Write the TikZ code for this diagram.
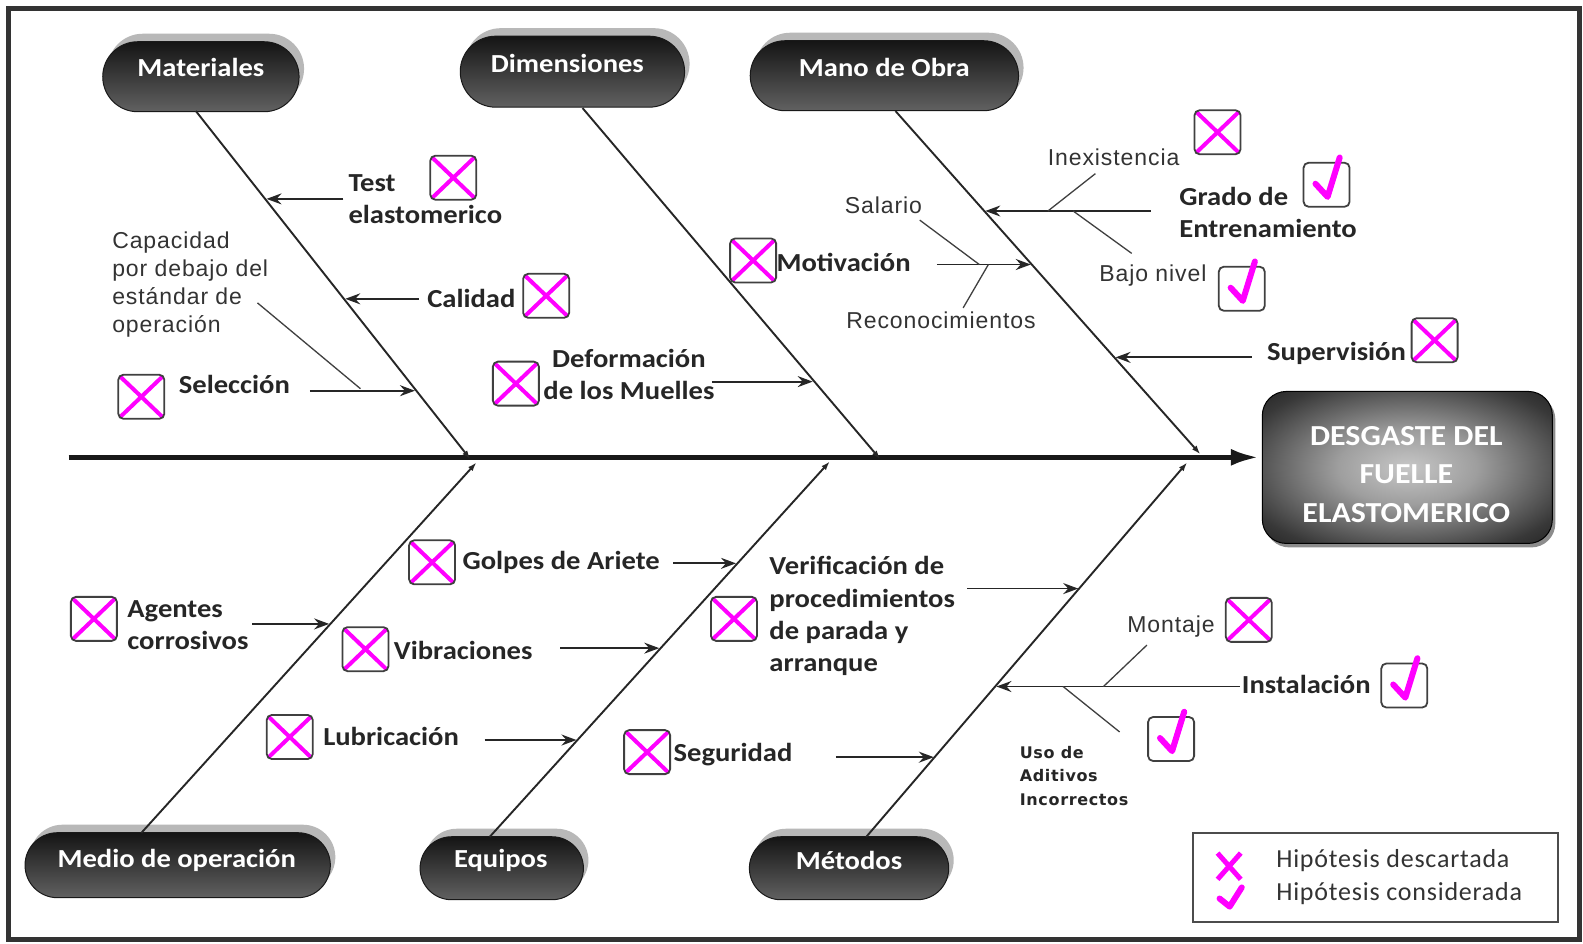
\documentclass[tikz,border=0pt]{standalone}
\usepackage{fontspec}
\setmainfont{Carlito}
\newfontfamily\lblfont[FakeStretch=1.1]{Carlito}
\newfontfamily\regfont[LetterSpace=4]{Liberation Sans}
\newfontfamily\smallbold[LetterSpace=4]{DejaVu Sans}
\newfontfamily\legfont[LetterSpace=3]{Carlito}
\usetikzlibrary{arrows.meta,shadows,shapes.misc}
\definecolor{mag}{HTML}{FF00FF}
\pgfdeclareradialshading{effshade}{\pgfpoint{0bp}{0bp}}{%
  color(0bp)=(black!22); color(12bp)=(black!38); color(30bp)=(black!78);
  color(44bp)=(black!96); color(50bp)=(black)}
\tikzset{
  spine/.style={line width=5pt, black!90, -{Latex[length=28pt,width=17pt]}, shorten >=3pt},
  bone/.style={line width=1.9pt, black!85, -{Latex[length=9pt,width=6pt]}},
  sub/.style={line width=1.8pt, black!85, -{Stealth[length=15pt,width=11pt,inset=5pt]}},
  twig/.style={line width=1.3pt, black!75},
  lbl/.style={font=\lblfont\bfseries\fontsize{26}{32.3}\selectfont, text=black!85, inner sep=0pt},
  reg/.style={font=\regfont\fontsize{23}{28}\selectfont, text=black!80, inner sep=0pt},
  tiny/.style={font=\smallbold\bfseries\fontsize{16}{23.8}\selectfont, text=black!85, inner sep=0pt},
  legtxt/.style={font=\legfont\fontsize{26}{30}\selectfont, text=black!80, inner sep=0pt, anchor=west},
  pill/.style={rounded rectangle, draw=black!90, line width=1pt,
    top color=black!92, middle color=black, bottom color=black!62,
    drop shadow={shadow xshift=5pt, shadow yshift=8pt, fill=black!28, opacity=1}},
  pilltxt/.style={font=\lblfont\bfseries\fontsize{26}{30}\selectfont, text=white, inner sep=0pt},
  effbox/.style={rectangle, rounded corners=24pt, draw=black, line width=1pt,
    shading=effshade, minimum width=290pt, minimum height=152pt,
    drop shadow={shadow xshift=3pt, shadow yshift=-4pt, fill=black!45, opacity=1}},
  efftxt/.style={font=\lblfont\bfseries\fontsize{29}{38.4}\selectfont, text=white, align=center, inner sep=0pt},
  cbox/.style={rectangle, rounded corners=5pt, draw=black!75, line width=1.8pt, fill=white,
    minimum width=46pt, minimum height=44pt, inner sep=0pt},
  xbox/.style={cbox, path picture={\draw[mag, line width=4pt]
      (path picture bounding box.north west) -- (path picture bounding box.south east)
      (path picture bounding box.north east) -- (path picture bounding box.south west);}},
  chk/.style={mag, line width=6pt, line cap=round, line join=round},
  legbox/.style={rectangle, draw=black!70, line width=2pt, minimum width=364.5pt, minimum height=89pt}
}
\begin{document}
\begin{tikzpicture}[x=1.0096pt, y=-1.0096pt]
\useasboundingbox (0,0) rectangle (1568,935);
\fill[white] (0,0) rectangle (1568,935);
% outer frame
\draw[line width=5pt, black!80] (8.5,8) rectangle (1564.5,931);

% effect box and spine
\node[effbox] (eff) at (1394,463) {};
\node[efftxt] (effT) at (1393,470) {DESGASTE DEL\\FUELLE\\ELASTOMERICO};
\coordinate (tail) at (68,453);
\draw[spine] (tail) -- (tail -| eff.west);

% category heads
\node[pill, minimum width=203pt, minimum height=70pt] (mat) at (199,76) {};
\node[pilltxt] (matT) at (199,67) {Materiales};
\node[pill, minimum width=231pt, minimum height=71pt] (dim) at (567,71) {};
\node[pilltxt] (dimT) at (562,63) {Dimensiones};
\node[pill, minimum width=275pt, minimum height=70pt] (man) at (876,75) {};
\node[pilltxt] (manT) at (876,67) {Mano de Obra};
\node[pill, minimum width=312pt, minimum height=65pt] (med) at (176,857) {};
\node[pilltxt] (medT) at (175,852) {Medio de operación};
\node[pill, minimum width=170pt, minimum height=63pt] (equ) at (497,860) {};
\node[pilltxt] (equT) at (496,852) {Equipos};
\node[pill, minimum width=206pt, minimum height=63pt] (met) at (841,860) {};
\node[pilltxt] (metT) at (841,852) {Métodos};

% bones
\coordinate (matA) at (194,110);  \coordinate (matB) at (466,455);
\coordinate (dimA) at (577,107);  \coordinate (dimB) at (872,455);
\coordinate (manA) at (887,110);  \coordinate (manB) at (1189,450);
\coordinate (medA) at (140,825);  \coordinate (medB) at (472,458);
\coordinate (equA) at (485,829);  \coordinate (equB) at (822,457);
\coordinate (metA) at (858,829);  \coordinate (metB) at (1176,458);
\draw[bone] (matA) -- (matB);
\draw[bone] (dimA) -- (dimB);
\draw[bone] (manA) -- (manB);
\draw[bone] (medA) -- (medB);
\draw[bone] (equA) -- (equB);
\draw[bone] (metA) -- (metB);

% cause arrows: start and tip on the bone
\coordinate (s1) at (340,197);  \coordinate (e1) at (264,197);
\coordinate (s2) at (415,296);  \coordinate (e2) at (342,296);
\coordinate (s3) at (307,387);  \coordinate (e3) at (411,387);
\coordinate (s4) at (705,378);  \coordinate (e4) at (805,378);
\coordinate (s5) at (928,262);  \coordinate (e5) at (1021,262);
\coordinate (s6) at (1140,209); \coordinate (e6) at (976,209);
\coordinate (s7) at (1240,354); \coordinate (e7) at (1105,354);
\coordinate (s8) at (250,618);  \coordinate (e8) at (326,618);
\coordinate (s9) at (667,558);  \coordinate (e9) at (729,558);
\coordinate (s10) at (555,642); \coordinate (e10) at (653,642);
\coordinate (s11) at (480,733); \coordinate (e11) at (571,733);
\coordinate (s12) at (958,583); \coordinate (e12) at (1068,583);
\coordinate (s13) at (828,750); \coordinate (e13) at (925,750);
\coordinate (s14) at (1228,680); \coordinate (e14) at (987,680);
\foreach \i in {1,...,14} {\draw[sub] (s\i) -- (e\i);}

% secondary twigs
\coordinate (c1) at (255,300);  \coordinate (c1e) at (357,385);
\coordinate (c2) at (911,218);  \coordinate (c2e) at (970,262);
\coordinate (c3) at (954,305);  \coordinate (c3e) at (979,262);
\coordinate (c4) at (1085,172); \coordinate (c4e) at (1038,209);
\coordinate (c5) at (1121,251); \coordinate (c5e) at (1063,209);
\coordinate (c6) at (1136,639); \coordinate (c6e) at (1093,680);
\coordinate (c7) at (1109,725); \coordinate (c7e) at (1053,680);
\foreach \i in {1,...,7} {\draw[twig] (c\i) -- (c\i e);}

% cause labels
\node[lbl, anchor=west, align=left] (tTest) at (345,197) {Test\\elastomerico};
\node[lbl, anchor=west] (tCal) at (423,296) {Calidad};
\node[lbl, anchor=west] (tSel) at (177,381) {Selección};
\node[lbl, align=center] (tDef) at (623,371) {Deformación\\de los Muelles};
\node[lbl, anchor=west] (tMot) at (769,260) {Motivación};
\node[lbl, anchor=west, align=left] (tGra) at (1168,210.5) {Grado de\\Entrenamiento};
\node[lbl, anchor=west] (tSup) at (1255,350) {Supervisión};
\node[lbl, anchor=west, align=left] (tAge) at (126,619.5) {Agentes\\corrosivos};
\node[lbl, anchor=west] (tGol) at (458,557) {Golpes de Ariete};
\node[lbl, anchor=west] (tVib) at (390,644) {Vibraciones};
\node[lbl, anchor=west] (tLub) at (320,729) {Lubricación};
\node[lbl, anchor=west, align=left] (tVer) at (762,610.5) {Verificación de\\procedimientos\\de parada y\\arranque};
\node[lbl, anchor=west] (tSeg) at (667,747) {Seguridad};
\node[lbl, anchor=west] (tIns) at (1230,678) {Instalación};

\node[reg, anchor=west, align=left] (tCap) at (111,281.5) {Capacidad\\por debajo del\\estándar de\\operación};
\node[reg] (tSal) at (875,203) {Salario};
\node[reg] (tRec) at (932,317) {Reconocimientos};
\node[reg] (tIne) at (1103,156) {Inexistencia};
\node[reg] (tBaj) at (1142,273) {Bajo nivel};
\node[reg] (tMon) at (1160,621) {Montaje};
\node[tiny, anchor=west, align=left] (tUso) at (1010,768.5) {Uso de\\Aditivos\\Incorrectos};

% discarded hypotheses
\node[xbox] (x1) at (449,176) {};
\node[xbox] (x2) at (541,293) {};
\node[xbox] (x3) at (140,393) {};
\node[xbox] (x4) at (511,380) {};
\node[xbox] (x5) at (746,258) {};
\node[xbox] (x6) at (1206,131) {};
\node[xbox] (x7) at (1421,337) {};
\node[xbox] (x8) at (93,613) {};
\node[xbox] (x9) at (428,557) {};
\node[xbox] (x10) at (362,643) {};
\node[xbox] (x11) at (287,730) {};
\node[xbox] (x12) at (727,613) {};
\node[xbox] (x13) at (641,745) {};
\node[xbox] (x14) at (1237,614) {};

% considered hypotheses
\node[cbox] (k1) at (1314,183) {};
\node[cbox] (k2) at (1230,286) {};
\node[cbox] (k3) at (1391,679) {};
\node[cbox] (k4) at (1160,732) {};
\foreach \k in {k1,k2,k3,k4} {
  \draw[chk, shift={(\k.center)}] (-11,-1) -- (1,12) -- (13,-27);
}

% legend
\node[legbox] (leg) at (1362.5,869.5) {};
\draw[mag, line width=5pt] (1206,845) -- (1229,871) (1229,845) -- (1206,871);
\draw[chk] (1208,890) -- (1218,898) -- (1230,879);
\node[legtxt] (l1) at (1264,852) {Hipótesis descartada};
\node[legtxt] (l2) at (1264,885) {Hipótesis considerada};
\end{tikzpicture}
\end{document}
